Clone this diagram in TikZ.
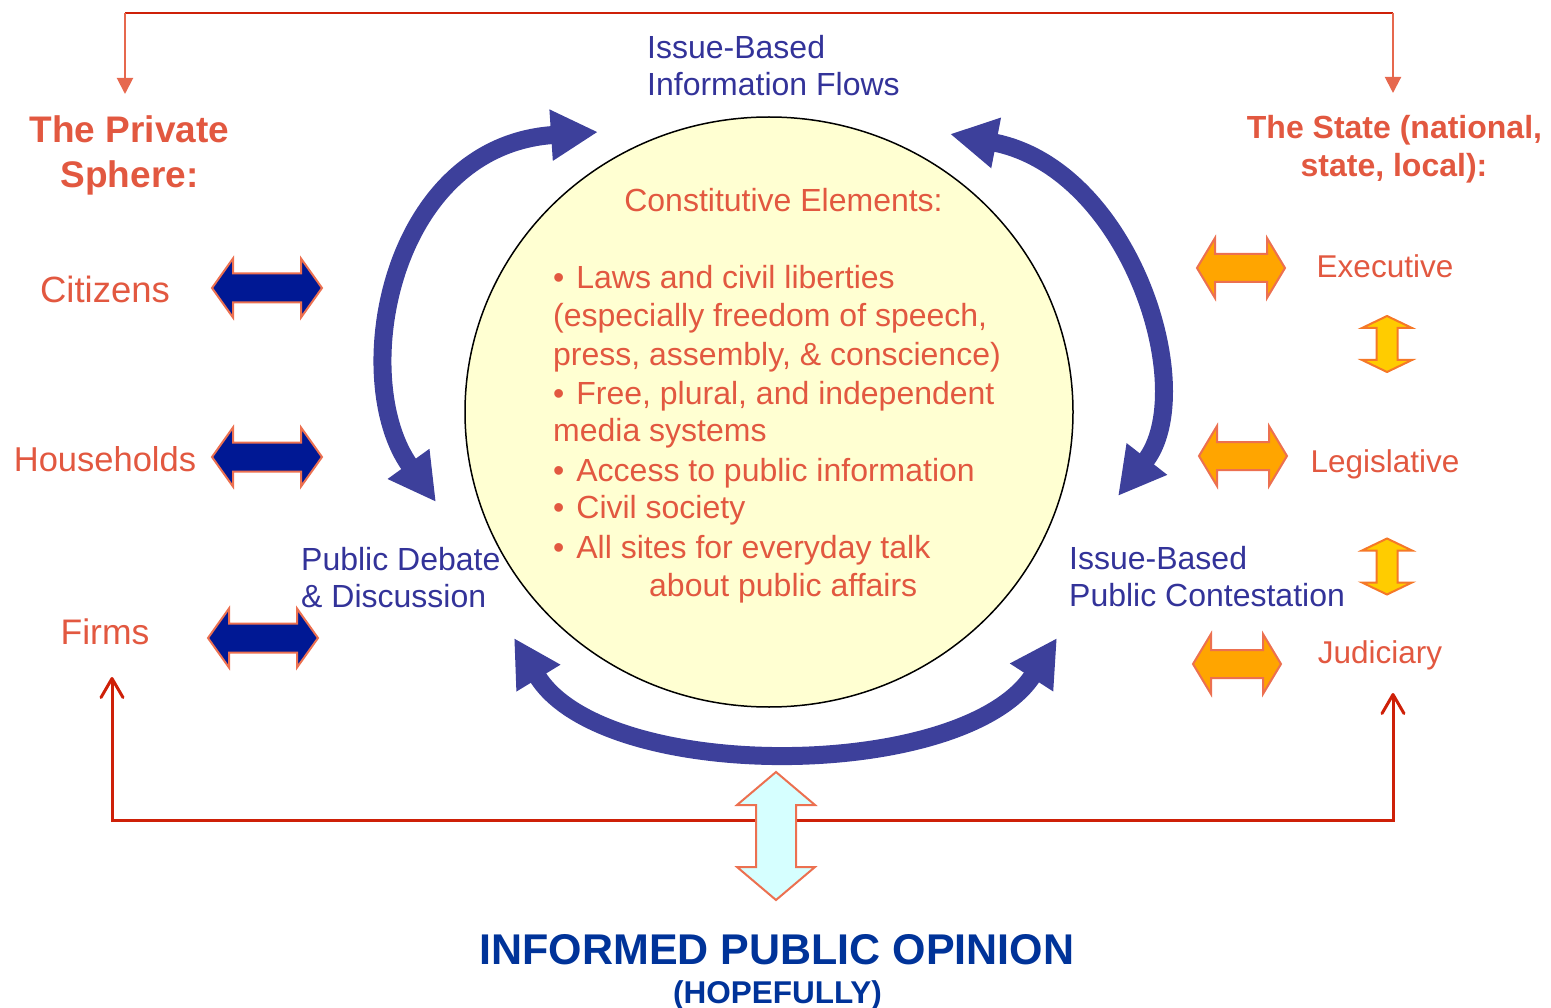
\documentclass[tikz,border=0pt]{standalone}
\usepackage{fontspec}
\setmainfont{Liberation Sans}
\usetikzlibrary{arrows.meta,shapes.geometric}

\definecolor{cRed}{RGB}{226,88,64}
\definecolor{cBlue}{RGB}{51,51,153}
\definecolor{cArc}{RGB}{61,64,155}
\definecolor{cNavy}{RGB}{0,24,148}
\definecolor{cEdge}{RGB}{236,112,80}
\definecolor{cOrange}{RGB}{255,165,0}
\definecolor{cYellow}{RGB}{255,204,0}
\definecolor{cYEdge}{RGB}{245,120,40}
\definecolor{cCyan}{RGB}{214,255,255}
\definecolor{cCore}{RGB}{255,255,210}
\definecolor{cRail}{RGB}{206,32,8}
\definecolor{cDrop}{RGB}{230,104,78}
\definecolor{cOpinion}{RGB}{0,51,153}

\newcommand\bul{•\hspace{12pt}}

\tikzset{
  pics/dblarrow/.style args={#1/#2/#3/#4}{code={
    \path[pic actions] (-#1,0) -- (-#1+#2,-#3) -- (-#1+#2,-#4) -- (#1-#2,-#4)
      -- (#1-#2,-#3) -- (#1,0) -- (#1-#2,#3) -- (#1-#2,#4) -- (-#1+#2,#4)
      -- (-#1+#2,#3) -- cycle;
  }},
  navyarrow/.style={fill=cNavy, draw=cEdge, line width=2pt, line join=miter},
  orangearrow/.style={fill=cOrange, draw=cEdge, line width=2pt, line join=miter},
  yellowarrow/.style={fill=cYellow, draw=cYEdge, line width=2pt, line join=miter},
  cyanarrow/.style={fill=cCyan, draw=cEdge, line width=2pt, line join=miter},
  sidelabel/.style={text=cRed, inner sep=0pt, anchor=base, font=\fontsize{#1}{#1}\selectfont},
  statelabel/.style={text=cRed, inner sep=0pt, anchor=base, font=\fontsize{31.5}{36}\selectfont},
  heading/.style={text=cRed, inner sep=0pt, anchor=base, font=\bfseries\fontsize{#1}{#1}\selectfont},
  flowlabel/.style={text=cBlue, inner sep=0pt, anchor=base west, font=\fontsize{32}{37}\selectfont},
  coreline/.style={text=cRed, inner sep=0pt, anchor=base west, font=\fontsize{32}{38}\selectfont},
  flowarc/.style={draw=cArc, line width=18pt,
    {Triangle[length=47pt,width=48pt]}-{Triangle[length=47pt,width=48pt]}},
  rail/.style={draw=cRail, line width=2pt},
  drop/.style={draw=cDrop, line width=2pt, -{Triangle[length=16pt,width=16pt]}},
  feedback/.style={draw=cRail, line width=3pt, line join=miter,
    {Straight Barb[length=19pt,width=22pt,round]}-{Straight Barb[length=19pt,width=22pt,round]}},
}

\begin{document}
\begin{tikzpicture}[x=1pt,y=-1pt]
\useasboundingbox (0,0) rectangle (1551,1008);

% central ellipse of constitutive elements
\node[draw=black, line width=1.5pt, fill=cCore, ellipse, inner sep=0pt,
      minimum width=608pt, minimum height=590pt] (core) at (769,412) {};

\node[text=cRed, inner sep=0pt, anchor=base, font=\fontsize{32}{38}\selectfont]
  (ctitle) at (783.5,212) {Constitutive Elements:};
\node[coreline] (c1) at (553,289) {\bul Laws and civil liberties};
\node[coreline] (c2) at (553,327) {(especially freedom of speech,};
\node[coreline] (c3) at (553,366) {press, assembly, \& conscience)};
\node[coreline] (c4) at (553,404) {\bul Free, plural, and independent};
\node[coreline] (c5) at (553,441) {media systems};
\node[coreline] (c6) at (553,481) {\bul Access to public information};
\node[coreline] (c7) at (553,518) {\bul Civil society};
\node[coreline] (c8) at (553,558) {\bul All sites for everyday talk};
\node[coreline] (c9) at (649,596) {about public affairs};

% curved information-flow arrows around the ellipse
\coordinate (tlA) at (436,502);
\coordinate (tlB) at (598,132);
\coordinate (trA) at (950,134);
\coordinate (trB) at (1118,496);
\coordinate (bmA) at (514,638);
\coordinate (bmB) at (1057,638);
\draw[flowarc] (tlA) .. controls (348,380) and (388,146) .. (tlB);
\draw[flowarc] (trA) .. controls (1131,169) and (1200,391) .. (trB);
\draw[flowarc] (bmA) .. controls (603,784) and (964,782) .. (bmB);

% flow labels
\node[flowlabel] (ib1) at (647,58.5) {Issue-Based};
\node[flowlabel] (ib2) at (647,95.5) {Information Flows};
\node[flowlabel] (pd1) at (301,570) {Public Debate};
\node[flowlabel] (pd2) at (301,607) {\& Discussion};
\node[flowlabel] (pc1) at (1069,569.5) {Issue-Based};
\node[flowlabel] (pc2) at (1069,606.5) {Public Contestation};

% private sphere
\node[heading=37] (priv1) at (129.5,143) {The Private};
\node[heading=37] (priv2) at (129.5,188) {Sphere:};
\node[sidelabel=36.5] (citizens) at (105,303) {Citizens};
\node[sidelabel=34.5] (households) at (105,471) {Households};
\node[sidelabel=35.5] (firms) at (105,644) {Firms};
\pic[navyarrow] (aCit) at (267,288) {dblarrow=55/21/29.5/14.5};
\pic[navyarrow] (aHou) at (267,457) {dblarrow=55/21/29.5/14.5};
\pic[navyarrow] (aFir) at (263,638) {dblarrow=55/21/29.5/14.5};

% the state
\node[heading=32] (state1) at (1394.5,139) {The State (national,};
\node[heading=32] (state2) at (1394,177) {state, local):};
\node[statelabel] (exec) at (1385,278) {Executive};
\node[statelabel] (legis) at (1385,472) {Legislative};
\node[statelabel] (judic) at (1380,663) {Judiciary};
\pic[orangearrow] (aExe) at (1241,268) {dblarrow=44/18/30/14};
\pic[orangearrow] (aLeg) at (1243,456) {dblarrow=44/18/30/14};
\pic[orangearrow] (aJud) at (1237,664) {dblarrow=44/18/30/14};
\pic[yellowarrow, rotate=90] (aEL) at (1387,344) {dblarrow=28/12/25/10.5};
\pic[yellowarrow, rotate=90] (aLJ) at (1387,566.5) {dblarrow=28/12/25/10.5};

% top rail feeding both spheres
\coordinate (railL) at (125,13);
\coordinate (railR) at (1393,13);
\coordinate (privTip) at (125,94);
\coordinate (stateTip) at (1393,93);
\draw[rail] (railL) -- (railR);
\draw[drop] (railL) -- (privTip);
\draw[drop] (railR) -- (stateTip);

% bottom feedback rail
\coordinate (firmsTip) at (112,677);
\coordinate (railBL) at (112,820);
\coordinate (railBR) at (1393,820);
\coordinate (judTip) at (1393,693);
\draw[feedback] (firmsTip) -- (railBL) -- (railBR) -- (judTip);

% link to public opinion
\pic[cyanarrow, rotate=90] (aOp) at (776,836) {dblarrow=64/33/39/20};
\node[text=cOpinion, inner sep=0pt, anchor=base, font=\bfseries\fontsize{43}{43}\selectfont]
  (opinion) at (777,964) {INFORMED PUBLIC OPINION};
\node[text=cOpinion, inner sep=0pt, anchor=base, font=\bfseries\fontsize{31.5}{32}\selectfont]
  (hope) at (777.5,1003) {(HOPEFULLY)};
\end{tikzpicture}
\end{document}
